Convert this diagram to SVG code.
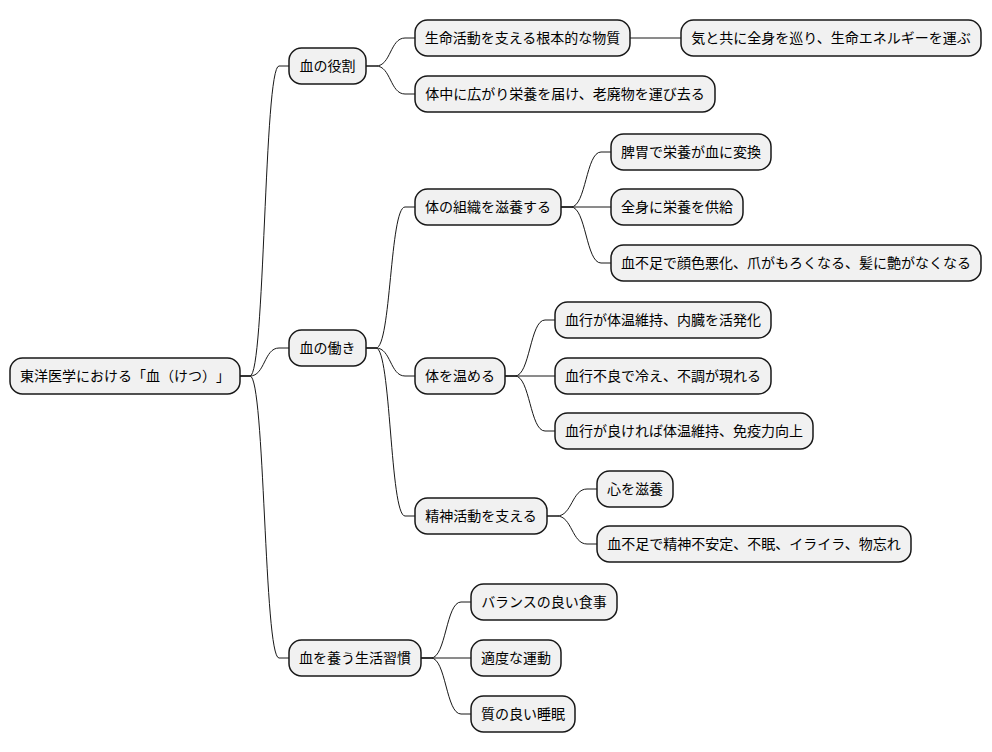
<svg xmlns="http://www.w3.org/2000/svg" width="992" height="752" viewBox="0 0 992 752">
<style>
.n rect{fill:#F1F1F1;stroke:#181818;stroke-width:1.5}
.n text{font-family:"Noto Sans CJK JP","Noto Sans CJK SC",sans-serif;font-size:14px;fill:#000;text-anchor:middle;text-spacing-trim:space-all}
.c path{fill:none;stroke:#181818;stroke-width:1}
</style>
<rect width="992" height="752" fill="#FFFFFF"/>
<g id="connectors" class="c">
<path d="M240,376 L250,376 C265,376 264,66 279,66 L289,66"/>
<path d="M240,376 L250,376 C265,376 264,348 279,348 L289,348"/>
<path d="M240,376 L250,376 C265,376 264,658 279,658 L289,658"/>
<path d="M366,66 L376,66 C391,66 390,38 405,38 L415,38"/>
<path d="M366,66 L376,66 C391,66 390,94 405,94 L415,94"/>
<path d="M630,38 L681,38"/>
<path d="M366,348 L376,348 C391,348 390,207 405,207 L415,207"/>
<path d="M366,348 L376,348 C391,348 390,376 405,376 L415,376"/>
<path d="M366,348 L376,348 C391,348 390,516 405,516 L415,516"/>
<path d="M561,207 L571,207 C586,207 586,152 601,152 L611,152"/>
<path d="M561,207 L611,207"/>
<path d="M561,207 L571,207 C586,207 586,263 601,263 L611,263"/>
<path d="M505,376 L515,376 C530,376 530,320 545,320 L555,320"/>
<path d="M505,376 L555,376"/>
<path d="M505,376 L515,376 C530,376 530,431 545,431 L555,431"/>
<path d="M547,516 L557,516 C572,516 572,489 587,489 L597,489"/>
<path d="M547,516 L557,516 C572,516 572,544 587,544 L597,544"/>
<path d="M421,658 L431,658 C446,658 446,602 461,602 L471,602"/>
<path d="M421,658 L471,658"/>
<path d="M421,658 L431,658 C446,658 446,714 461,714 L471,714"/>
</g>
<g id="root" class="n"><rect x="10" y="358" width="230" height="36" rx="12.5"/><text x="125" y="381">東洋医学における「血（けつ）」</text></g>
<g id="n1" class="n"><rect x="289" y="48" width="77" height="36" rx="12.5"/><text x="327.5" y="71">血の役割</text></g>
<g id="n1a" class="n"><rect x="415" y="20" width="215" height="36" rx="12.5"/><text x="522.5" y="43">生命活動を支える根本的な物質</text></g>
<g id="n1a1" class="n"><rect x="681" y="20" width="300" height="36" rx="12.5"/><text x="831" y="43">気と共に全身を巡り、生命エネルギーを運ぶ</text></g>
<g id="n1b" class="n"><rect x="415" y="76" width="300" height="36" rx="12.5"/><text x="565" y="99">体中に広がり栄養を届け、老廃物を運び去る</text></g>
<g id="n2" class="n"><rect x="289" y="330" width="77" height="36" rx="12.5"/><text x="327.5" y="353">血の働き</text></g>
<g id="n2a" class="n"><rect x="415" y="189" width="146" height="36" rx="12.5"/><text x="488" y="212">体の組織を滋養する</text></g>
<g id="n2a1" class="n"><rect x="611" y="134" width="160" height="36" rx="12.5"/><text x="691" y="157">脾胃で栄養が血に変換</text></g>
<g id="n2a2" class="n"><rect x="611" y="189" width="132" height="36" rx="12.5"/><text x="677" y="212">全身に栄養を供給</text></g>
<g id="n2a3" class="n"><rect x="611" y="245" width="370" height="36" rx="12.5"/><text x="796" y="268">血不足で顔色悪化、爪がもろくなる、髪に艶がなくなる</text></g>
<g id="n2b" class="n"><rect x="415" y="358" width="90" height="36" rx="12.5"/><text x="460" y="381">体を温める</text></g>
<g id="n2b1" class="n"><rect x="555" y="302" width="216" height="36" rx="12.5"/><text x="663" y="325">血行が体温維持、内臓を活発化</text></g>
<g id="n2b2" class="n"><rect x="555" y="358" width="216" height="36" rx="12.5"/><text x="663" y="381">血行不良で冷え、不調が現れる</text></g>
<g id="n2b3" class="n"><rect x="555" y="413" width="258" height="36" rx="12.5"/><text x="684" y="436">血行が良ければ体温維持、免疫力向上</text></g>
<g id="n2c" class="n"><rect x="415" y="498" width="132" height="36" rx="12.5"/><text x="481" y="521">精神活動を支える</text></g>
<g id="n2c1" class="n"><rect x="597" y="471" width="76" height="36" rx="12.5"/><text x="635" y="494">心を滋養</text></g>
<g id="n2c2" class="n"><rect x="597" y="526" width="314" height="36" rx="12.5"/><text x="754" y="549">血不足で精神不安定、不眠、イライラ、物忘れ</text></g>
<g id="n3" class="n"><rect x="289" y="640" width="132" height="36" rx="12.5"/><text x="355" y="663">血を養う生活習慣</text></g>
<g id="n3a" class="n"><rect x="471" y="584" width="146" height="36" rx="12.5"/><text x="544" y="607">バランスの良い食事</text></g>
<g id="n3b" class="n"><rect x="471" y="640" width="90" height="36" rx="12.5"/><text x="516" y="663">適度な運動</text></g>
<g id="n3c" class="n"><rect x="471" y="696" width="104" height="36" rx="12.5"/><text x="523" y="719">質の良い睡眠</text></g>
</svg>
